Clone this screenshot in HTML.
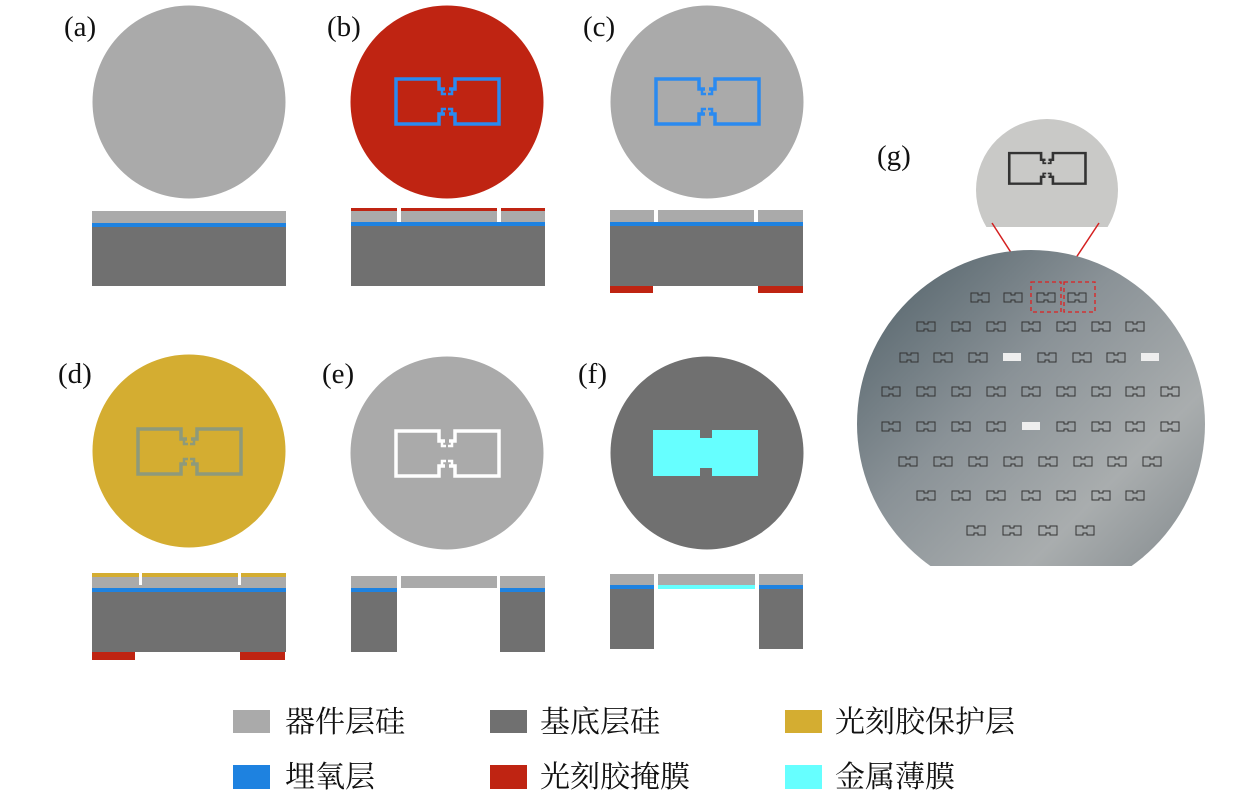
<!DOCTYPE html>
<html><head><meta charset="utf-8"><style>
html,body{margin:0;padding:0;background:#fff;}
svg{display:block}
.lab{font-family:"Liberation Serif",serif;font-size:29px;fill:#111}
.lg{font-family:"Liberation Serif","Noto Serif CJK SC",serif;font-size:30px;fill:#111}
</style></head><body>
<svg width="1260" height="803" viewBox="0 0 1260 803" xmlns="http://www.w3.org/2000/svg">
<defs>
<g id="pat">
<path d="M-2,-12 H-8 V-22 H-51 V23 H-8 V13 H-2 M2,-12 H8 V-22 H52 V23 H8 V13 H2" fill="none" stroke-width="3.5"/>
<path d="M-5,-12 V-7 H-1 M5,-12 V-7 H1 M-5,13 V8 H-1 M5,13 V8 H1" fill="none" stroke-width="2.5"/>
</g>
<g id="dev"><path d="M0,0 H7 V2 H11 V0 H18 V9 H11 V7 H7 V9 H0 Z" fill="none" stroke="#333" stroke-width="1"/></g>
<linearGradient id="wg" x1="0" y1="0" x2="1" y2="1">
<stop offset="0" stop-color="#4e5e66"/><stop offset="0.4" stop-color="#8a9297"/><stop offset="0.7" stop-color="#a9adae"/><stop offset="1" stop-color="#7d8488"/>
</linearGradient>
<clipPath id="wc"><rect x="850" y="240" width="370" height="326"/></clipPath>
<clipPath id="ic"><rect x="960" y="100" width="170" height="127"/></clipPath>
</defs>

<!-- labels -->
<text class="lab" x="64" y="36">(a)</text>
<text class="lab" x="327" y="36">(b)</text>
<text class="lab" x="583" y="36">(c)</text>
<text class="lab" x="58" y="383">(d)</text>
<text class="lab" x="322" y="383">(e)</text>
<text class="lab" x="578" y="383">(f)</text>
<text class="lab" x="877" y="165">(g)</text>

<!-- (a) -->
<circle cx="189" cy="102" r="96.5" fill="#aaaaaa"/>
<rect x="92" y="211" width="194" height="12" fill="#aaaaaa"/>
<rect x="92" y="223" width="194" height="4" fill="#1e82e0"/>
<rect x="92" y="227" width="194" height="59" fill="#707070"/>

<!-- (b) -->
<circle cx="447" cy="102" r="96.5" fill="#bf2412"/>
<use href="#pat" x="447" y="101" stroke="#2a8af0"/>
<rect x="351" y="208" width="194" height="3" fill="#bf2412"/>
<rect x="351" y="211" width="194" height="11" fill="#aaaaaa"/>
<rect x="397" y="208" width="4" height="14" fill="#fff"/>
<rect x="497" y="208" width="4" height="14" fill="#fff"/>
<rect x="351" y="222" width="194" height="4" fill="#1e82e0"/>
<rect x="351" y="226" width="194" height="60" fill="#707070"/>

<!-- (c) -->
<circle cx="707" cy="102" r="96.5" fill="#aaaaaa"/>
<use href="#pat" x="707" y="101" stroke="#2a8af0"/>
<rect x="610" y="210" width="193" height="12" fill="#aaaaaa"/>
<rect x="654" y="210" width="4" height="12" fill="#fff"/>
<rect x="754" y="210" width="4" height="12" fill="#fff"/>
<rect x="610" y="222" width="193" height="4" fill="#1e82e0"/>
<rect x="610" y="226" width="193" height="60" fill="#707070"/>
<rect x="610" y="286" width="43" height="7" fill="#bf2412"/>
<rect x="758" y="286" width="45" height="7" fill="#bf2412"/>

<!-- (d) -->
<circle cx="189" cy="451" r="96.5" fill="#d4ad31"/>
<use href="#pat" x="189" y="451" stroke="#8e9a7a"/>
<rect x="92" y="573" width="194" height="4" fill="#d4ad31"/>
<rect x="92" y="577" width="194" height="11" fill="#aaaaaa"/>
<rect x="139" y="573" width="3" height="12" fill="#fff"/>
<rect x="238" y="573" width="3" height="12" fill="#fff"/>
<rect x="92" y="588" width="194" height="4" fill="#1e82e0"/>
<rect x="92" y="592" width="194" height="60" fill="#707070"/>
<rect x="92" y="652" width="43" height="8" fill="#bf2412"/>
<rect x="240" y="652" width="45" height="8" fill="#bf2412"/>

<!-- (e) -->
<circle cx="447" cy="453" r="96.5" fill="#aaaaaa"/>
<use href="#pat" x="447" y="453" stroke="#ffffff"/>
<rect x="351" y="576" width="46" height="12" fill="#aaaaaa"/>
<rect x="401" y="576" width="96" height="12" fill="#aaaaaa"/>
<rect x="500" y="576" width="45" height="12" fill="#aaaaaa"/>
<rect x="351" y="588" width="46" height="4" fill="#1e82e0"/>
<rect x="500" y="588" width="45" height="4" fill="#1e82e0"/>
<rect x="351" y="592" width="46" height="60" fill="#707070"/>
<rect x="500" y="592" width="45" height="60" fill="#707070"/>

<!-- (f) -->
<circle cx="707" cy="453" r="96.5" fill="#707070"/>
<path d="M653,430 H700 V438 H712 V430 H758 V476 H712 V468 H700 V476 H653 Z" fill="#66ffff"/>
<rect x="610" y="574" width="44" height="11" fill="#aaaaaa"/>
<rect x="658" y="574" width="97" height="11" fill="#aaaaaa"/>
<rect x="759" y="574" width="44" height="11" fill="#aaaaaa"/>
<rect x="658" y="585" width="97" height="4" fill="#66ffff"/>
<rect x="610" y="585" width="44" height="4" fill="#1e82e0"/>
<rect x="759" y="585" width="44" height="4" fill="#1e82e0"/>
<rect x="610" y="589" width="44" height="60" fill="#707070"/>
<rect x="759" y="589" width="44" height="60" fill="#707070"/>

<!-- (g) inset -->
<circle cx="1047" cy="190" r="71" fill="#c9c9c7" clip-path="url(#ic)"/>
<g transform="translate(1047,168) scale(0.74,0.68)"><use href="#pat" stroke="#333"/></g>
<line x1="992" y1="223" x2="1030" y2="282" stroke="#d42020" stroke-width="1.5"/>
<line x1="1099" y1="223" x2="1060" y2="282" stroke="#d42020" stroke-width="1.5"/>

<!-- wafer -->
<circle cx="1031" cy="424" r="174" fill="url(#wg)" clip-path="url(#wc)"/>
<g>
<use href="#dev" x="971" y="293"/><use href="#dev" x="1004" y="293"/><use href="#dev" x="1037" y="293"/><use href="#dev" x="1068" y="293"/>
<use href="#dev" x="917" y="322"/><use href="#dev" x="952" y="322"/><use href="#dev" x="987" y="322"/><use href="#dev" x="1022" y="322"/><use href="#dev" x="1057" y="322"/><use href="#dev" x="1092" y="322"/><use href="#dev" x="1126" y="322"/>
<use href="#dev" x="900" y="353"/><use href="#dev" x="934" y="353"/><use href="#dev" x="969" y="353"/><rect x="1003" y="353" width="18" height="8" fill="#eee"/><use href="#dev" x="1038" y="353"/><use href="#dev" x="1073" y="353"/><use href="#dev" x="1107" y="353"/><rect x="1141" y="353" width="18" height="8" fill="#eee"/>
<use href="#dev" x="882" y="387"/><use href="#dev" x="917" y="387"/><use href="#dev" x="952" y="387"/><use href="#dev" x="987" y="387"/><use href="#dev" x="1022" y="387"/><use href="#dev" x="1057" y="387"/><use href="#dev" x="1092" y="387"/><use href="#dev" x="1126" y="387"/><use href="#dev" x="1161" y="387"/>
<use href="#dev" x="882" y="422"/><use href="#dev" x="917" y="422"/><use href="#dev" x="952" y="422"/><use href="#dev" x="987" y="422"/><rect x="1022" y="422" width="18" height="8" fill="#eee"/><use href="#dev" x="1057" y="422"/><use href="#dev" x="1092" y="422"/><use href="#dev" x="1126" y="422"/><use href="#dev" x="1161" y="422"/>
<use href="#dev" x="899" y="457"/><use href="#dev" x="934" y="457"/><use href="#dev" x="969" y="457"/><use href="#dev" x="1004" y="457"/><use href="#dev" x="1039" y="457"/><use href="#dev" x="1074" y="457"/><use href="#dev" x="1108" y="457"/><use href="#dev" x="1143" y="457"/>
<use href="#dev" x="917" y="491"/><use href="#dev" x="952" y="491"/><use href="#dev" x="987" y="491"/><use href="#dev" x="1022" y="491"/><use href="#dev" x="1057" y="491"/><use href="#dev" x="1092" y="491"/><use href="#dev" x="1126" y="491"/>
<use href="#dev" x="967" y="526"/><use href="#dev" x="1003" y="526"/><use href="#dev" x="1039" y="526"/><use href="#dev" x="1076" y="526"/>
</g>
<rect x="1031" y="282" width="30" height="30" fill="none" stroke="#e02020" stroke-width="1.3" stroke-dasharray="4,3"/>
<rect x="1064" y="282" width="31" height="30" fill="none" stroke="#e02020" stroke-width="1.3" stroke-dasharray="4,3"/>

<!-- legend -->
<rect x="233" y="710" width="37" height="23" fill="#aaaaaa"/>
<text class="lg" x="285" y="732">器件层硅</text>
<rect x="490" y="710" width="37" height="23" fill="#707070"/>
<text class="lg" x="540" y="732">基底层硅</text>
<rect x="785" y="710" width="37" height="23" fill="#d4ad31"/>
<text class="lg" x="835" y="732">光刻胶保护层</text>
<rect x="233" y="765" width="37" height="24" fill="#1e82e0"/>
<text class="lg" x="285" y="787">埋氧层</text>
<rect x="490" y="765" width="37" height="24" fill="#bf2412"/>
<text class="lg" x="540" y="787">光刻胶掩膜</text>
<rect x="785" y="765" width="37" height="24" fill="#66ffff"/>
<text class="lg" x="835" y="787">金属薄膜</text>
</svg>
</body></html>
